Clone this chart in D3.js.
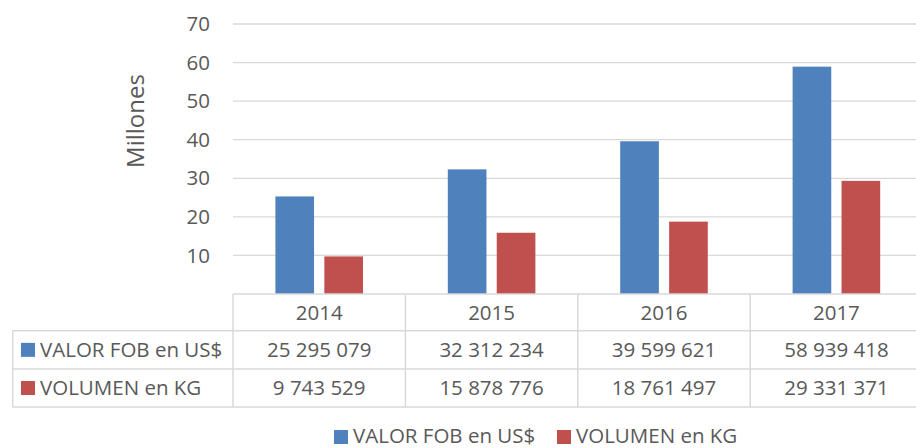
<!DOCTYPE html>
<html><head><meta charset="utf-8">
<script src="https://cdn.jsdelivr.net/npm/d3@7"></script>
<style>
html,body{margin:0;padding:0;background:#fff;}
svg{display:block;}
text{font-family:"Open Sans",sans-serif;fill:#595959;}
</style></head>
<body>
<svg id="chart" width="916" height="448"></svg>
<script>
const years = ["2014","2015","2016","2017"];
const seriesNames = ["VALOR FOB en US$","VOLUMEN en KG"];
const valorFob = [25295079, 32312234, 39599621, 58939418];
const volumenKg = [9743529, 15878776, 18761497, 29331371];
const valorFobLabels = ["25 295 079","32 312 234","39 599 621","58 939 418"];
const volumenKgLabels = ["9 743 529","15 878 776","18 761 497","29 331 371"];
const yTicks = [10,20,30,40,50,60,70];
const colors = ["#4F81BD","#C0504D"];
const yLabel = "Millones";

const svg = d3.select("#chart");
const fs = 20.5;
const plotL = 233, plotR = 922.6, plotT = 24, plotB = 294;
const x = d3.scaleBand().domain(years).range([plotL, plotR]).padding(0);
const bw = x.bandwidth();
const inner = d3.scaleBand().domain(seriesNames).range([bw*0.246, bw*0.754]).paddingInner(0.21);
const y = d3.scaleLinear().domain([0,70]).range([plotB, plotT]);
const grid = "#D9D9D9";

// gridlines
svg.append("g").selectAll("line").data(yTicks).join("line")
  .attr("x1", plotL).attr("x2", 916)
  .attr("y1", d=>y(d)).attr("y2", d=>y(d))
  .attr("stroke", grid).attr("stroke-width", 1.3);

// y tick labels
svg.append("g").selectAll("text").data(yTicks).join("text")
  .attr("x", 210).attr("y", d=>y(d)).attr("dy","0.35em")
  .attr("text-anchor","end").attr("font-size", fs).text(d=>d);

// y axis title
svg.append("text").attr("transform","translate(136,121) rotate(-90)")
  .attr("dy","0.35em")
  .attr("text-anchor","middle").attr("font-size", 24).text(yLabel);

// bars
const data = [valorFob, volumenKg];
seriesNames.forEach((s,si)=>{
  svg.append("g").selectAll("rect").data(years).join("rect")
    .attr("x", d=>x(d)+inner(s))
    .attr("width", inner.bandwidth())
    .attr("y", (d,i)=>y(data[si][i]/1e6))
    .attr("height", (d,i)=>y(0)-y(data[si][i]/1e6))
    .attr("fill", colors[si]);
});

// data table
const tblLeft = 12.7;
const rows = [plotB, 330.7, 369, 407];
const tg = svg.append("g");
tg.append("line").attr("x1",plotL).attr("x2",916).attr("y1",rows[0]).attr("y2",rows[0]).attr("stroke",grid).attr("stroke-width",1.5);
[1,2,3].forEach(r=>{
  tg.append("line").attr("x1",tblLeft).attr("x2",916).attr("y1",rows[r]).attr("y2",rows[r]).attr("stroke",grid).attr("stroke-width",1.5);
});
years.forEach(yr=>{
  tg.append("line").attr("x1",x(yr)).attr("x2",x(yr)).attr("y1",rows[0]).attr("y2",rows[3]).attr("stroke",grid).attr("stroke-width",1.5);
});
tg.append("line").attr("x1",tblLeft).attr("x2",tblLeft).attr("y1",rows[1]).attr("y2",rows[3]).attr("stroke",grid).attr("stroke-width",1.5);

tg.selectAll("text.yr").data(years).join("text").attr("class","yr")
  .attr("x", d=>x(d)+bw/2).attr("y",(rows[0]+rows[1])/2).attr("dy","0.35em")
  .attr("text-anchor","middle").attr("font-size",fs).text(d=>d);

const labelRows = [valorFobLabels, volumenKgLabels];
labelRows.forEach((lbls,ri)=>{
  const cy = (rows[ri+1]+rows[ri+2])/2;
  tg.append("rect").attr("x",21).attr("y",cy-7).attr("width",14).attr("height",14).attr("fill",colors[ri]);
  tg.append("text").attr("x",40).attr("y",cy).attr("dy","0.35em").attr("font-size",fs).text(seriesNames[ri]);
  tg.selectAll("text.v"+ri).data(years).join("text").attr("class","v"+ri)
    .attr("x", d=>x(d)+bw/2).attr("y",cy).attr("dy","0.35em")
    .attr("text-anchor","middle").attr("font-size",fs).text((d,i)=>lbls[i]);
});

// legend
const lg = svg.append("g");
const legX = [334, 557];
seriesNames.forEach((s,i)=>{
  lg.append("rect").attr("x",legX[i]).attr("y",430).attr("width",14).attr("height",14).attr("fill",colors[i]);
  lg.append("text").attr("x",legX[i]+19).attr("y",436).attr("dy","0.35em").attr("font-size",fs).text(s);
});
</script>
</body></html>
